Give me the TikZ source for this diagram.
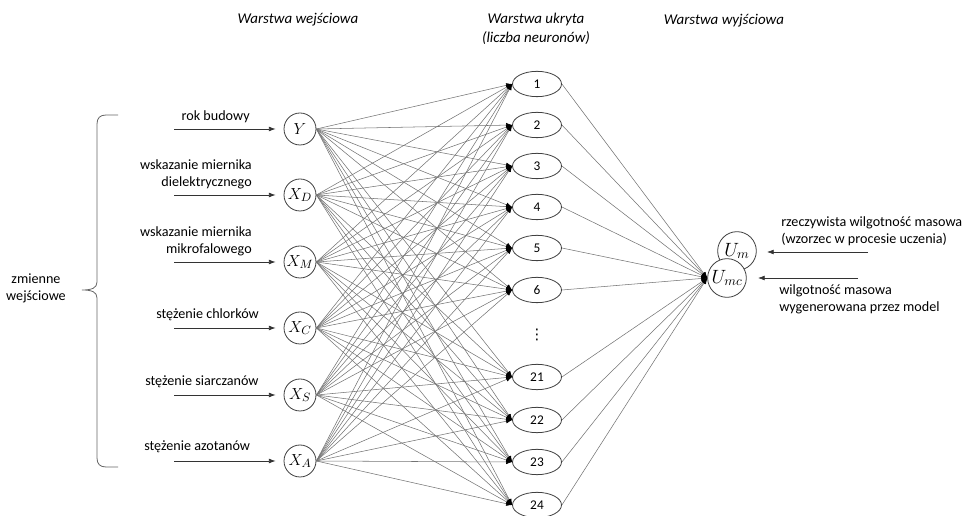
\documentclass[tikz,border=0pt]{standalone}
\usepackage{fontspec}
\setmainfont{Carlito}
\newfontfamily\symbolfont{DejaVu Sans}
\usetikzlibrary{arrows.meta,shapes.geometric}
\begin{document}
\begin{tikzpicture}[x=0.75pt,y=-0.75pt,
  inp/.style={circle, draw=black!75, line width=0.6pt, fill=white,
    minimum size=24pt, inner sep=0pt, font=\fontsize{13}{13}\selectfont},
  outn/.style={circle, draw=black!75, line width=0.6pt, fill=white,
    minimum size=29pt, inner sep=0pt, font=\fontsize{14}{14}\selectfont},
  hid/.style={ellipse, draw=black!75, line width=0.6pt, fill=white,
    minimum width=36.75pt, minimum height=19pt, inner sep=0pt,
    font=\fontsize{10}{12}\selectfont},
  wire/.style={draw=black!55, line width=0.4pt,
    -{Latex[length=4.5pt,width=3.4pt,black]}},
  feed/.style={draw=black!80, line width=0.5pt,
    -{Latex[length=5pt,width=3.6pt]}},
  lbl/.style={font=\fontsize{10.6}{12.8}\selectfont, inner sep=0pt},
  ttl/.style={font=\itshape\fontsize{11.2}{14}\selectfont, inner sep=0pt, align=center},
  bracepath/.style={draw=black!60, line width=0.6pt}
]
\useasboundingbox (0,0) rectangle (976,516);

% layer titles
\node[ttl] (t1) at (298,20) {Warstwa wejściowa};
\node[ttl] (t2) at (536,29) {Warstwa ukryta\\(liczba neuronów)};
\node[ttl] (t3) at (724,21) {Warstwa wyjściowa};

% input neurons
\node[inp] (Y)  at (300,129) {$Y$};
\node[inp] (XD) at (300,195) {$X_D$};
\node[inp] (XM) at (300,262) {$X_M$};
\node[inp] (XC) at (300,328) {$X_C$};
\node[inp] (XS) at (300,395) {$X_S$};
\node[inp] (XA) at (300,461) {$X_A$};

% hidden neurons
\node[hid] (h1)  at (537,84)  {1};
\node[hid] (h2)  at (537,125) {2};
\node[hid] (h3)  at (537,166) {3};
\node[hid] (h4)  at (537,207) {4};
\node[hid] (h5)  at (537,248) {5};
\node[hid] (h6)  at (537,290) {6};
\node[font=\symbolfont\fontsize{11}{11}\selectfont, inner sep=0pt] (hd) at (537,335) {⋮};
\node[hid] (h21) at (537,377) {21};
\node[hid] (h22) at (537,420) {22};
\node[hid] (h23) at (537,462) {23};
\node[hid] (h24) at (537,505) {24};

% full connections input -> hidden
\foreach \i in {Y,XD,XM,XC,XS,XA}{
  \foreach \h in {h1,h2,h3,h4,h5,h6,h21,h22,h23,h24}{
    \draw[wire] (\i.east) -- (\h.west);
  }
}

% output neurons
\node[outn] (Um)  at (737,251) {$U_m$};
\node[outn] (Umc) at (727,278) {$U_{mc}$};

% hidden -> output
\foreach \h in {h1,h2,h3,h4,h5,h6,h21,h22,h23,h24}{
  \draw[wire] (\h.east) -- (Umc.west);
}

% input feeds and their labels
\coordinate (sY)  at (174,129);
\coordinate (sXD) at (174,195);
\coordinate (sXM) at (174,262);
\coordinate (sXC) at (174,328);
\coordinate (sXS) at (174,395);
\coordinate (sXA) at (174,461);
\foreach \i in {Y,XD,XM,XC,XS,XA}{
  \draw[feed, shorten >=6pt] (s\i) -- (\i);
}
\node[lbl, anchor=east] (lY) at (250,117) {rok budowy};
\node[lbl, anchor=east, align=right] (lXD) at (252,174) {wskazanie miernika\\dielektrycznego};
\node[lbl, anchor=east, align=right] (lXM) at (252,241) {wskazanie miernika\\mikrofalowego};
\node[lbl, anchor=west] (lXC) at (156,315) {stężenie chlorków};
\node[lbl, anchor=west] (lXS) at (145,382) {stężenie siarczanów};
\node[lbl, anchor=west] (lXA) at (144,447) {stężenie azotanów};

% brace grouping the inputs
\draw[bracepath] (118,115) -- (106,115)
  .. controls (100,115) and (97,118) .. (97,124) -- (97,282)
  .. controls (97,288) and (92,290) .. (82,290)
  .. controls (92,290) and (97,292) .. (97,298) -- (97,458)
  .. controls (97,464) and (100,467) .. (106,467) -- (118,467);
\node[lbl, align=center] (grp) at (36,288) {zmienne\\wejściowe};

% target and model output arrows
\coordinate (rS) at (868,252);
\coordinate (rE) at (767,252);
\coordinate (gS) at (858,278);
\coordinate (gE) at (758,278);
\draw[feed] (rS) -- (rE);
\draw[feed] (gS) -- (gE);
\node[lbl, anchor=north west, align=left] (lr) at (781,216) {rzeczywista wilgotność masowa\\(wzorzec w procesie uczenia)};
\node[lbl, anchor=north west, align=left] (lg) at (779,284) {wilgotność masowa\\wygenerowana przez model};
\end{tikzpicture}
\end{document}
